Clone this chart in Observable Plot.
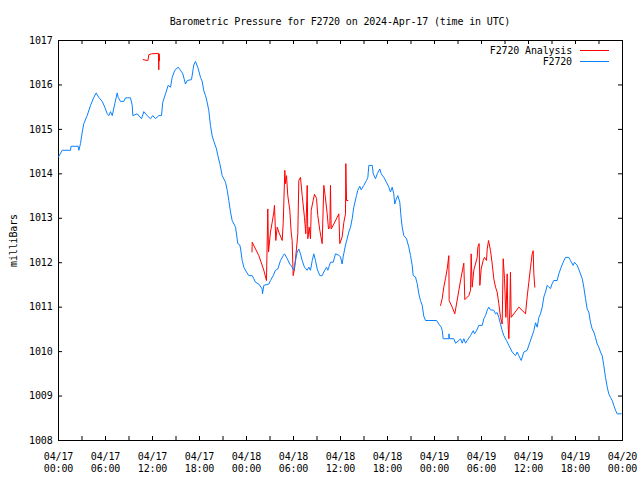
<!DOCTYPE html>
<html>
<head>
<meta charset="utf-8">
<script src="https://cdn.jsdelivr.net/npm/d3@7"></script>
<script src="https://cdn.jsdelivr.net/npm/@observablehq/plot@0.6"></script>
<style>
  body { margin: 0; background: #fff; }
  #wrap { position: relative; width: 640px; height: 480px; font-family: "DejaVu Sans Mono", monospace; font-size: 10px; letter-spacing: -0.15px; color: #000; }
  #title { height: 30px; line-height: 43px; margin-left: 58px; width: 564px; text-align: center; white-space: nowrap; }
  #legend { position: absolute; top: 45px; right: 31px; }
  #legend .row { display: flex; align-items: center; justify-content: flex-end; height: 11px; }
  #legend .swatch { display: inline-block; width: 29px; height: 0; border-top: 1px solid; margin-left: 8px; }
</style>
</head>
<body>
<div id="wrap">
  <div id="title">Barometric Pressure for F2720 on 2024-Apr-17 (time in UTC)</div>
  <div id="chart"></div>
  <div id="legend"></div>
</div>
<script>
// Series names and colours
const seriesNames = ["F2720 Analysis", "F2720"];
const seriesColors = ["#ff0000", "#0a80ff"];

// Start of time axis (UTC) and hours offsets
const startDate = "2024-04-17T00:00:00Z";

// F2720 observed series: hours since start, pressure (mb)
const obsHours = [0,0.47,1.53,1.6,2.51,2.6,2.81,3.03,3.23,3.66,4.09,4.51,4.81,5.14,5.58,5.91,6.22,6.42,6.64,6.86,7.19,7.49,7.62,7.91,8.34,8.55,9.19,9.41,9.49,10.05,10.6,10.89,11.32,11.74,12.04,12.38,12.6,12.8,13.15,13.31,13.66,14.0,14.3,14.51,14.85,15.28,15.57,15.87,16.21,16.43,16.98,17.27,17.49,17.81,18.13,18.34,18.55,18.77,18.98,19.19,19.4,19.62,19.83,20.17,20.34,20.59,20.9,21.32,21.54,21.74,21.96,22.17,22.6,22.89,23.14,23.23,23.45,23.66,24.0,24.29,24.73,24.93,25.15,25.57,26.0,26.04,26.21,26.85,27.06,27.41,27.7,28.0,28.34,28.69,28.85,29.2,29.53,29.83,30.04,30.26,30.47,30.68,30.89,31.11,31.4,31.75,31.95,32.17,32.39,32.59,32.81,33.02,33.36,33.66,33.87,34.21,34.38,34.72,35.07,35.36,35.79,36.0,36.21,36.34,36.64,36.85,37.06,37.28,37.49,37.7,38.04,38.21,38.46,38.64,38.98,39.32,39.49,39.62,40.05,40.18,40.47,40.69,41.02,41.2,41.53,41.87,42.17,42.38,42.6,42.8,42.93,43.11,43.32,43.57,43.75,43.88,44.08,44.43,44.72,44.94,45.15,45.28,45.57,45.79,46.0,46.21,46.43,46.63,46.85,48.26,48.55,48.86,48.99,49.11,49.83,49.84,49.92,50.47,50.69,51.11,51.32,51.54,51.74,51.96,52.17,52.6,52.94,53.11,53.36,53.66,54.09,54.3,54.51,54.73,54.93,55.15,55.57,55.79,56.0,56.21,56.43,56.64,56.85,57.19,57.49,57.92,58.34,58.56,58.76,59.07,59.4,59.83,60.17,60.47,60.68,60.9,61.11,61.32,61.53,61.75,61.96,62.17,62.39,62.6,62.81,63.02,63.23,63.66,63.87,64.17,64.43,64.72,65.15,65.36,65.71,65.87,66.22,66.55,66.86,67.06,67.28,67.49,67.7,67.91,68.13,68.34,68.55,68.77,68.98,69.19,69.41,69.61,69.83,70.05,70.25,70.47,70.69,70.89,71.11,71.32,71.83];
const obsValues = [1014.38,1014.53,1014.53,1014.62,1014.62,1014.53,1014.68,1014.94,1015.13,1015.31,1015.54,1015.72,1015.82,1015.72,1015.63,1015.5,1015.35,1015.31,1015.4,1015.31,1015.58,1015.82,1015.72,1015.63,1015.63,1015.71,1015.71,1015.54,1015.31,1015.35,1015.24,1015.4,1015.31,1015.24,1015.31,1015.24,1015.28,1015.31,1015.31,1015.61,1015.8,1015.99,1015.95,1016.17,1016.33,1016.4,1016.33,1016.25,1016.02,1016.1,1016.12,1016.45,1016.53,1016.38,1016.17,1016.08,1015.87,1015.76,1015.61,1015.42,1015.09,1014.85,1014.73,1014.56,1014.41,1014.23,1013.96,1013.81,1013.63,1013.4,1013.14,1012.95,1012.8,1012.43,1012.4,1012.33,1012.05,1011.9,1011.79,1011.71,1011.71,1011.64,1011.56,1011.52,1011.41,1011.3,1011.49,1011.52,1011.6,1011.71,1011.83,1011.86,1012.05,1012.16,1012.2,1012.09,1011.97,1011.9,1011.83,1012.05,1012.24,1012.31,1012.2,1012.05,1011.9,1011.83,1011.9,1011.83,1012.05,1012.2,1012.05,1011.86,1011.71,1011.71,1011.79,1011.9,1011.83,1012.01,1012.01,1012.2,1012.17,1012.13,1011.97,1012.13,1012.4,1012.54,1012.69,1012.8,1012.99,1013.25,1013.51,1013.63,1013.72,1013.64,1013.74,1013.85,1013.92,1014.19,1014.19,1014.0,1013.89,1014.0,1014.11,1014.0,1013.92,1013.81,1013.7,1013.59,1013.7,1013.55,1013.32,1013.43,1013.51,1013.36,1012.99,1012.8,1012.61,1012.54,1012.35,1012.16,1011.94,1011.71,1011.68,1011.53,1011.3,1011.15,1011.04,1010.8,1010.7,1010.7,1010.62,1010.55,1010.47,1010.29,1010.29,1010.4,1010.29,1010.29,1010.19,1010.25,1010.29,1010.19,1010.29,1010.19,1010.25,1010.36,1010.47,1010.4,1010.47,1010.59,1010.59,1010.74,1010.81,1010.93,1011.0,1010.94,1010.93,1010.85,1010.88,1010.77,1010.62,1010.47,1010.36,1010.25,1010.14,1009.99,1009.91,1009.99,1009.91,1009.8,1009.99,1010.03,1010.21,1010.36,1010.47,1010.65,1010.55,1010.77,1010.85,1011.0,1011.23,1011.34,1011.49,1011.45,1011.42,1011.53,1011.6,1011.6,1011.75,1011.9,1012.01,1012.12,1012.12,1012.05,1011.94,1012.01,1011.94,1011.79,1011.64,1011.45,1011.19,1010.96,1010.89,1010.66,1010.51,1010.44,1010.32,1010.17,1010.1,1009.99,1009.91,1009.69,1009.42,1009.2,1009.05,1008.97,1008.9,1008.79,1008.68,1008.6,1008.6];

// F2720 Analysis series: hours since start, pressure (mb); null marks a gap
const anaHours = [10.81,11.32,11.42,11.53,11.87,12.7,12.75,12.8,12.85,12.9,null,24.7,24.73,25.15,25.57,25.87,26.21,26.55,26.72,26.81,27.06,27.28,27.49,27.57,27.74,27.92,28.12,28.56,28.69,28.89,28.98,29.11,29.27,29.53,29.7,29.83,29.96,30.13,30.38,30.55,30.68,30.89,31.11,31.4,31.57,31.75,31.83,32.0,32.17,32.26,32.51,32.68,32.94,33.1,33.36,33.66,33.87,34.04,34.3,34.47,34.64,34.72,34.81,35.15,35.57,35.79,35.91,36.21,36.43,36.64,36.68,36.77,36.94,null,48.77,48.98,49.19,49.4,49.62,49.83,49.87,50.26,50.59,50.81,51.11,51.41,51.74,51.87,52.38,52.6,52.68,52.81,53.02,53.23,53.45,53.53,53.7,53.79,53.96,54.21,54.38,54.64,54.73,54.9,55.15,55.37,55.57,55.79,56.0,56.21,56.43,56.64,56.77,56.94,57.11,57.28,57.36,57.49,57.62,57.7,57.79,58.13,58.77,59.19,59.62,59.83,60.04,60.26,60.47,60.6,60.68,60.81];
const anaValues = [1016.57,1016.55,1016.55,1016.68,1016.7,1016.71,1016.71,1016.34,1016.7,1016.55,null,1012.24,1012.46,1012.31,1012.16,1012.01,1011.83,1011.6,1013.21,1012.24,1012.69,1012.91,1013.14,1013.29,1012.5,1012.8,1012.69,1012.5,1012.91,1014.08,1013.78,1013.96,1013.51,1013.18,1012.69,1012.5,1011.71,1011.86,1012.31,1012.65,1013.85,1013.92,1013.51,1013.02,1012.65,1013.74,1012.54,1012.8,1012.54,1013.18,1013.4,1013.54,1013.45,1013.06,1012.73,1012.43,1013.74,1013.51,1013.1,1012.76,1012.8,1013.74,1012.76,1012.87,1013.02,1013.1,1012.43,1012.58,1012.91,1013.1,1014.23,1013.4,1013.4,null,1011.04,1011.19,1011.45,1011.64,1011.86,1012.16,1011.15,1011.0,1010.85,1011.07,1011.38,1011.68,1011.99,1011.17,1011.26,1011.38,1012.2,1011.45,1011.83,1011.97,1012.12,1012.35,1012.43,1011.49,1011.86,1012.05,1012.12,1012.05,1012.31,1012.5,1012.27,1011.97,1011.64,1011.45,1011.34,1011.08,1010.77,1010.62,1012.09,1011.64,1010.77,1011.75,1010.77,1010.29,1011.0,1011.79,1010.77,1010.85,1011.0,1010.93,1010.85,1011.23,1011.56,1011.9,1012.2,1012.27,1011.75,1011.45];

// Axis ticks
const yTicks = [1008,1009,1010,1011,1012,1013,1014,1015,1016,1017];
const xLabelHours = [0,6,12,18,24,30,36,42,48,54,60,66,72];
const xMinorHours = [0,3,6,9,12,15,18,21,24,27,30,33,36,39,42,45,48,51,54,57,60,63,66,69,72];
const yLabel = "milliBars";

const t0 = new Date(startDate).getTime();
const toDate = h => h == null ? null : new Date(t0 + h * 3600e3);

const obs = obsHours.map((h, i) => ({t: toDate(h), p: obsValues[i]}));
const ana = anaHours.map((h, i) => ({t: toDate(h), p: anaValues[i]}));
const xLabelDates = xLabelHours.map(toDate);
const xMinorDates = xMinorHours.map(toDate);

const fmtD = d3.utcFormat("%m/%d"), fmtT = d3.utcFormat("%H:%M");
const font = "DejaVu Sans Mono, monospace";

const W = 640, H = 450, mL = 58, mR = 18, mT = 10, mB = 40;
const plotW = W - mL - mR, plotH = H - mT - mB;

const chart = Plot.plot({
  width: W, height: H,
  marginLeft: mL, marginRight: mR, marginTop: mT, marginBottom: mB,
  style: {fontFamily: font, fontSize: "10px", letterSpacing: "-0.15px", background: "#fff", color: "#000"},
  x: {type: "utc", domain: [toDate(0), toDate(72)]},
  y: {domain: [1008, 1017]},
  marks: [
    Plot.frame({stroke: "#000"}),
    Plot.tickX(xMinorDates, {x: d => d, insetTop: plotH - 4, stroke: "#000"}),
    Plot.tickX(xMinorDates, {x: d => d, insetBottom: plotH - 4, stroke: "#000"}),
    Plot.tickY(yTicks, {y: d => d, insetRight: plotW - 4, stroke: "#000"}),
    Plot.tickY(yTicks, {y: d => d, insetLeft: plotW - 4, stroke: "#000"}),
    Plot.axisX({ticks: xLabelDates, tickSize: 0, tickPadding: 11, lineHeight: 1.2,
      tickFormat: d => fmtD(d) + "\n" + fmtT(d), label: null}),
    Plot.axisY({ticks: yTicks, tickSize: 0, tickPadding: 6, tickFormat: d => String(d),
      label: yLabel, labelAnchor: "center", labelOffset: 49, labelArrow: false}),
    Plot.line(ana, {x: "t", y: "p", stroke: seriesColors[0], strokeWidth: 1}),
    Plot.line(obs, {x: "t", y: "p", stroke: seriesColors[1], strokeWidth: 1})
  ]
});
document.getElementById("chart").appendChild(chart);

const legend = document.getElementById("legend");
seriesNames.forEach((name, i) => {
  const row = document.createElement("div");
  row.className = "row";
  const span = document.createElement("span");
  span.textContent = name;
  const sw = document.createElement("span");
  sw.className = "swatch";
  sw.style.borderTopColor = seriesColors[i];
  row.appendChild(span);
  row.appendChild(sw);
  legend.appendChild(row);
});
</script>
</body>
</html>
